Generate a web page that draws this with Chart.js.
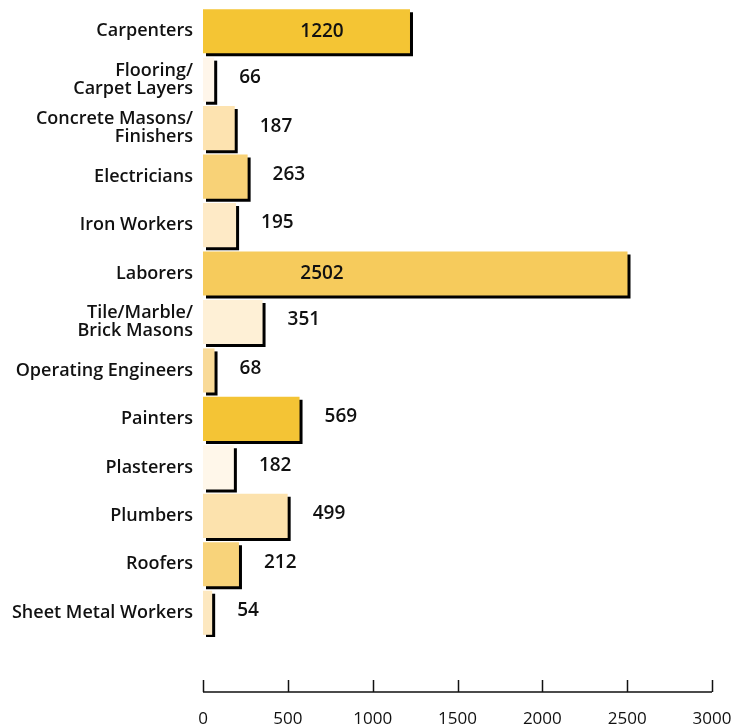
<!DOCTYPE html>
<html lang="en">
<head>
<meta charset="UTF-8">
<title>Trades</title>
<style>
    html, body { margin: 0; padding: 0; background: #fff; overflow: hidden; }
    canvas { display: block; }
</style>
</head>
<body>
<canvas id="tradesChart" width="754" height="728"></canvas>
<script src="https://cdn.jsdelivr.net/npm/chart.js"></script>
<script>
const trades = [
    'Carpenters', ['Flooring/', 'Carpet Layers'], ['Concrete Masons/', 'Finishers'],
    'Electricians', 'Iron Workers', 'Laborers', ['Tile/Marble/', 'Brick Masons'],
    'Operating Engineers', 'Painters', 'Plasterers', 'Plumbers', 'Roofers', 'Sheet Metal Workers'
];
const workers = [1220, 66, 187, 263, 195, 2502, 351, 68, 569, 182, 499, 212, 54];
const barColors = [
    '#f4c534', '#fff6ea', '#fde3b0', '#f8d277', '#feeac6', '#f6cb5c', '#fef0d6',
    '#f9da98', '#f4c435', '#fff7ea', '#fce2ad', '#f8d37a', '#fde8c0'
];
const xTicks = [0, 500, 1000, 1500, 2000, 2500, 3000];

const FONT = '"Open Sans", "DejaVu Sans", sans-serif';

// drop shadow under each bar
const shadowPlugin = {
    id: 'barShadow',
    beforeDatasetsDraw(chart) {
        const ctx = chart.ctx;
        ctx.save();
        ctx.shadowColor = '#000';
        ctx.shadowBlur = 0;
        ctx.shadowOffsetX = 3;
        ctx.shadowOffsetY = 3;
    },
    afterDatasetsDraw(chart) {
        chart.ctx.restore();
    }
};

// value labels + the detached x axis (line, ticks, numbers)
const labelPlugin = {
    id: 'valueLabels',
    afterDraw(chart) {
        const ctx = chart.ctx;
        const meta = chart.getDatasetMeta(0);
        ctx.save();
        ctx.font = '600 19px ' + FONT;
        ctx.fillStyle = '#111';
        ctx.textBaseline = 'middle';
        meta.data.forEach((bar, i) => {
            const v = workers[i];
            if (v > 1000) {
                ctx.textAlign = 'center';
                ctx.fillText(String(v), bar.base + 119, bar.y);
            } else {
                ctx.textAlign = 'left';
                ctx.fillText(String(v), bar.x + 25, bar.y - 2);
            }
        });

        const x = chart.scales.x;
        const yLine = chart.chartArea.bottom + 55;
        ctx.strokeStyle = '#111';
        ctx.lineWidth = 1.5;
        ctx.beginPath();
        ctx.moveTo(x.getPixelForValue(xTicks[0]), yLine);
        ctx.lineTo(x.getPixelForValue(xTicks[xTicks.length - 1]), yLine);
        xTicks.forEach(t => {
            const px = Math.round(x.getPixelForValue(t)) + 0.5;
            ctx.moveTo(px, yLine);
            ctx.lineTo(px, yLine - 12);
        });
        ctx.stroke();

        ctx.font = '400 17px ' + FONT;
        ctx.textAlign = 'center';
        ctx.textBaseline = 'alphabetic';
        xTicks.forEach(t => {
            ctx.fillText(String(t), x.getPixelForValue(t), yLine + 32);
        });
        ctx.restore();
    }
};

new Chart(document.getElementById('tradesChart'), {
    type: 'bar',
    data: {
        labels: trades,
        datasets: [{
            data: workers,
            backgroundColor: barColors,
            borderWidth: 0,
            barPercentage: 0.91,
            categoryPercentage: 1
        }]
    },
    options: {
        indexAxis: 'y',
        responsive: false,
        animation: false,
        layout: { padding: { top: 7, right: 42, left: 0, bottom: 91 } },
        plugins: { legend: { display: false }, tooltip: { enabled: false } },
        scales: {
            x: {
                display: false,
                min: 0,
                max: 3000
            },
            y: {
                afterFit: s => {
                    s.width = 203;
                    s.paddingTop = 0;
                    s.paddingBottom = 0;
                },
                grid: { display: false, drawTicks: false },
                border: { display: false },
                ticks: {
                    padding: 10,
                    color: '#111',
                    font: { family: FONT, size: 18, weight: '600', lineHeight: 1.0 }
                }
            }
        }
    },
    plugins: [shadowPlugin, labelPlugin]
});
</script>
</body>
</html>
